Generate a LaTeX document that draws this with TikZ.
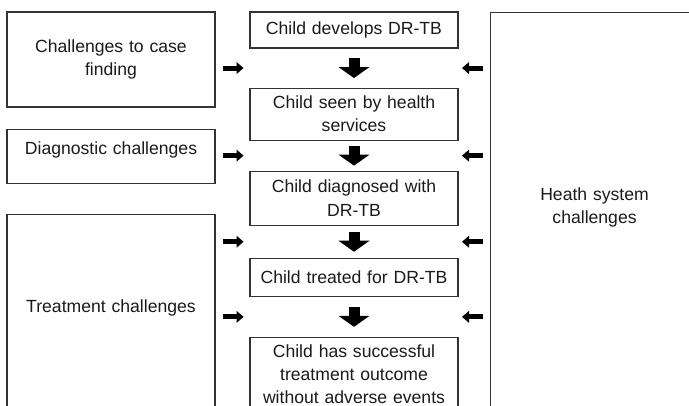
\documentclass[tikz,border=0pt]{standalone}
\usepackage{fontspec}
\setmainfont{Liberation Sans}
\usetikzlibrary{arrows.meta, positioning, calc}
\definecolor{lineColor}{HTML}{333333}
\definecolor{textColor}{HTML}{1A1A1A}
\tikzstyle{stage} = [rectangle,
inner xsep=6pt,
inner ysep=0pt,
text width=196pt,
align=center,
text=textColor,
draw=lineColor,
line width=1.1pt]
\tikzstyle{challenge} = [stage]
\tikzstyle{downarrow} = [line width=11pt, -{Triangle[width=31pt,length=11pt,line width=0pt]}]
\tikzstyle{sidearrow} = [line width=5pt, -{Triangle[width=12pt,length=7pt,line width=0pt]}]

\begin{document}
\begin{tikzpicture}[x=1pt,y=1pt,font=\fontsize{17.6}{23.2}\selectfont]
    \useasboundingbox (0,0) rectangle (689,-406);
    \clip (0,0) rectangle (689,-406);

    % Nodes
    \node[stage, minimum height=36pt] (develops) at (354,-30) {Child develops DR-TB};
    \node[stage, minimum height=52pt, below=39pt of develops] (seen) {Child seen by health\\services};
    \node[stage, minimum height=54pt, below=30pt of seen] (diagnosed) {Child diagnosed with\\DR-TB};
    \node[stage, minimum height=38pt, below=32pt of diagnosed] (treated) {Child treated for DR-TB};
    \node[stage, text height=20pt, text depth=80pt, below=40pt of treated] (outcome) {Child has successful\\treatment outcome\\without adverse events};

    \node[challenge, minimum height=95pt] (casefinding) at (111,-59.5) {Challenges to case\\finding};
    \node[challenge, text height=25pt, text depth=29pt, below=21pt of casefinding] (diagnostic) {Diagnostic challenges};
    \node[challenge, text height=98pt, text depth=120pt, below=30pt of diagnostic] (treatment) {Treatment challenges};
    \node[challenge, text height=188pt, text depth=242pt, anchor=north west] (healthsystem) at (490,-12) {Heath system\\challenges};

    % Gaps between stages
    \coordinate (gap1) at ($(develops.south)!0.5!(seen.north)$);
    \coordinate (gap2) at ($(seen.south)!0.5!(diagnosed.north)$);
    \coordinate (gap3) at ($(diagnosed.south)!0.5!(treated.north)$);
    \coordinate (gap4) at ($(treated.south)!0.5!(outcome.north)$);

    % Arrows
    \draw[downarrow] ($(gap1)+(0,10)$) -- ($(gap1)+(0,-10)$);
    \draw[downarrow] ($(gap2)+(0,10)$) -- ($(gap2)+(0,-10)$);
    \draw[downarrow] ($(gap3)+(0,10)$) -- ($(gap3)+(0,-10)$);
    \draw[downarrow] ($(gap4)+(0,10)$) -- ($(gap4)+(0,-10)$);
    \draw[sidearrow] ($(gap1 -| casefinding.east)+(7,0)$) -- ++(21,0);
    \draw[sidearrow] ($(gap2 -| diagnostic.east)+(7,0)$) -- ++(21,0);
    \draw[sidearrow] ($(gap3 -| treatment.east)+(7,0)$) -- ++(21,0);
    \draw[sidearrow] ($(gap4 -| treatment.east)+(7,0)$) -- ++(21,0);
    \draw[sidearrow] ($(gap1 -| healthsystem.west)+(-7,0)$) -- ++(-21,0);
    \draw[sidearrow] ($(gap2 -| healthsystem.west)+(-7,0)$) -- ++(-21,0);
    \draw[sidearrow] ($(gap3 -| healthsystem.west)+(-7,0)$) -- ++(-21,0);
    \draw[sidearrow] ($(gap4 -| healthsystem.west)+(-7,0)$) -- ++(-21,0);
\end{tikzpicture}
\end{document}
